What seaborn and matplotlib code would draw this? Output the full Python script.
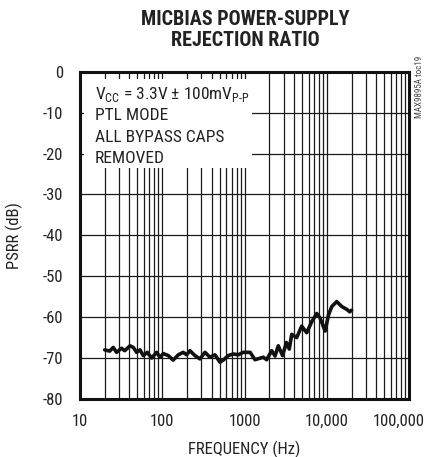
import numpy as np
import pandas as pd
import seaborn as sns
import matplotlib.pyplot as plt
import matplotlib.transforms as mtransforms
from matplotlib.ticker import FixedLocator, NullFormatter, NullLocator
from matplotlib.patches import Rectangle

# frequency points (Hz) and PSRR (dB)
freq = [20, 23, 25.4, 27.9, 32, 35, 40.6, 44.5, 48.9, 53.7, 58.9, 65.8, 74.4,
        85.6, 94, 103, 118.6, 136, 157, 180, 198, 217, 250, 287, 331, 380,
        437, 503, 552, 634, 728, 840, 966, 1170, 1340, 1690, 1860, 2140, 2350,
        2570, 2900, 3230, 3500, 3750, 4310, 4950, 5700, 6560, 7550, 8280,
        9540, 10500, 11500, 13200, 15200, 17500, 19000, 20000]
psrr = [-68.0, -68.3, -67.4, -68.6, -67.6, -68.2, -67.0, -67.4, -68.6, -68.0,
        -69.4, -68.6, -70.0, -68.6, -69.8, -68.9, -69.4, -70.5, -69.2, -68.6,
        -69.2, -68.2, -69.4, -70.2, -68.6, -69.8, -69.2, -71.0, -70.5, -69.4,
        -69.0, -69.2, -68.6, -68.6, -70.4, -69.8, -70.4, -68.2, -69.5, -67.0,
        -69.4, -66.2, -67.8, -64.2, -65.0, -62.2, -63.8, -61.1, -59.1, -60.2,
        -63.4, -59.4, -57.4, -56.2, -57.4, -58.1, -58.7, -58.3]

y_ticks = [0, -10, -20, -30, -40, -50, -60, -70, -80]
x_ticks = [10, 100, 1000, 10000, 100000]
x_ticklabels = ['10', '100', '1000', '10,000', '100,000']
title = 'MICBIAS POWER-SUPPLY\nREJECTION RATIO'
note_lines = [r'V$_{\text{CC}}$ = 3.3V ± 100mV$_{\text{P-P}}$',
              'PTL MODE', 'ALL BYPASS CAPS', 'REMOVED']

df = pd.DataFrame({'freq': freq, 'psrr': psrr})

sns.set_style('white')
plt.rcParams['font.family'] = ['Roboto Condensed', 'DejaVu Sans']
plt.rcParams['axes.unicode_minus'] = False
plt.rcParams['mathtext.fontset'] = 'custom'
plt.rcParams['mathtext.rm'] = 'Roboto Condensed'

fig = plt.figure(figsize=(4.32, 4.57), dpi=100)
ax = fig.add_axes([0.185, 0.127, 0.762, 0.716])

ax.set_xscale('log')
ax.set_xlim(10, 100000)
ax.set_ylim(-80, 0)

# grid: minor decades + 10 dB lines
minors = [m * 10 ** d for d in range(1, 5) for m in range(2, 10)]
for xv in minors + x_ticks:
    ax.axvline(xv, color='#1a1a1a', lw=0.9, zorder=1)
for yv in y_ticks:
    ax.axhline(yv, color='#1a1a1a', lw=0.9, zorder=1)

# white box behind the note
ax.add_patch(Rectangle((0.012, 0.705), 0.51, 0.272, transform=ax.transAxes,
                       facecolor='white', edgecolor='none', zorder=2))

sns.lineplot(data=df, x='freq', y='psrr', ax=ax, color='#111111', lw=2.6,
             zorder=3, legend=False)

ax.xaxis.set_major_locator(FixedLocator(x_ticks))
ax.xaxis.set_minor_locator(NullLocator())
ax.xaxis.set_minor_formatter(NullFormatter())
ax.set_xticklabels(x_ticklabels)
ax.set_yticks(y_ticks)
ax.tick_params(axis='both', length=0, labelsize=12, colors='#222222')
ax.tick_params(axis='y', pad=12)
ax.tick_params(axis='x', pad=11)
# last x label sits against the figure edge, nudge it left a bit
last = ax.get_xticklabels()[-1]
last.set_transform(last.get_transform() +
                   mtransforms.ScaledTranslation(-0.1, 0, fig.dpi_scale_trans))

for sp in ax.spines.values():
    sp.set_linewidth(2.2)
    sp.set_color('#111111')
    sp.set_zorder(4)

ax.set_xlabel('FREQUENCY (Hz)', fontsize=12, color='#222222', labelpad=8)
ax.set_ylabel('PSRR (dB)', fontsize=12, color='#222222', labelpad=14)

for i, line in enumerate(note_lines):
    ax.text(0.045, 0.93 - i * 0.065, line, transform=ax.transAxes,
            fontsize=12.5, color='#222222', va='center', ha='left', zorder=5)

fig.text(0.567, 0.978, title, ha='center', va='top', fontsize=14.5,
         fontweight='heavy', color='#222222', linespacing=1.15)
fig.text(0.972, 0.81, 'MAX9895A toc19', rotation=90, ha='center', va='center',
         fontsize=6.5, color='#444444')

fig.savefig('out.png', dpi=100)
